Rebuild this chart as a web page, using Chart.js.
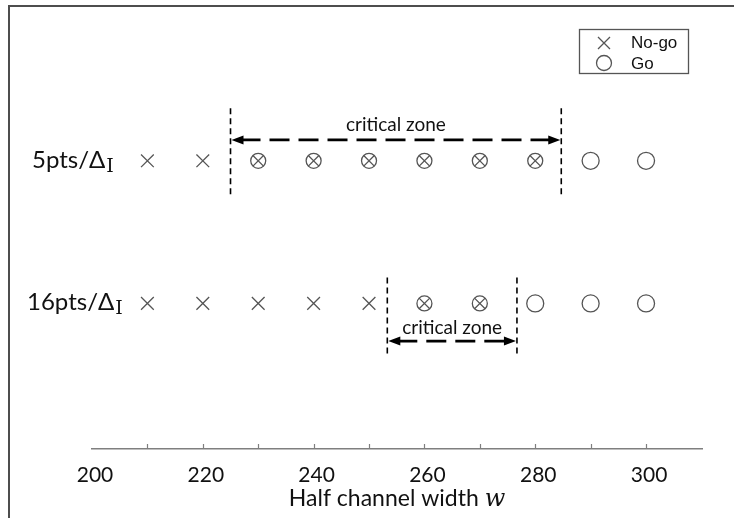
<!DOCTYPE html>
<html>
<head>
<meta charset="UTF-8">
<title>Go / No-go vs half channel width</title>
<script src="https://cdn.jsdelivr.net/npm/chart.js@4.4.1/dist/chart.umd.min.js"></script>
<style>
  html, body { margin: 0; padding: 0; background: #fff; overflow: hidden; width: 734px; height: 518px; }
  #frame { position: absolute; left: 8px; top: 5px; width: 800px; height: 600px;
           border-top: 2px solid #4d4d4d; border-left: 2px solid #4d4d4d; }
  #chart { position: absolute; left: 0; top: 0; }
</style>
</head>
<body>
<div id="frame"></div>
<canvas id="chart" width="734" height="518"></canvas>
<script>
// rows (y level used on the hidden y scale)
const rowNames = ['5pts', '16pts'];
const rowLevels = [2, 1];

// half channel width of every run, split by outcome
const noGo5 = [210, 220];
const critical5 = [230, 240, 250, 260, 270, 280];
const go5 = [290, 300];
const noGo16 = [210, 220, 230, 240, 250];
const critical16 = [260, 270];
const go16 = [280, 290, 300];

// critical zone limits on w
const zone5 = [225, 284.7];
const zone16 = [253.3, 276.7];

const xTickLabels = [200, 220, 240, 260, 280, 300];
const xTickMarks = [210, 220, 230, 240, 250, 260, 270, 280, 290, 300];

const ink = '#555';
const sansFont = 'Lato, "Open Sans", sans-serif';

function pts(xs, level) { return xs.map(x => ({x: x, y: level})); }

function markerSet(data, style, radius) {
  return {
    data: data,
    pointStyle: style,
    pointRadius: radius,
    pointBorderColor: ink,
    pointBackgroundColor: 'rgba(0,0,0,0)',
    pointBorderWidth: 1.3,
    showLine: false
  };
}

// where the dashed limits, arrow and caption sit, relative to the row level
const zoneLayout = [
  {zone: zone5, level: rowLevels[0], top: 0.368, bottom: -0.236, arrow: 0.146, text: 0.25},
  {zone: zone16, level: rowLevels[1], top: 0.181, bottom: -0.368, arrow: -0.264, text: -0.173}
];

function arrowHead(ctx, x, y, dir) {
  ctx.beginPath();
  ctx.moveTo(x, y);
  ctx.lineTo(x - dir * 12, y - 4.5);
  ctx.lineTo(x - dir * 12, y + 4.5);
  ctx.closePath();
  ctx.fill();
}

function drawCross(ctx, cx, cy, h) {
  ctx.beginPath();
  ctx.moveTo(cx - h, cy - h); ctx.lineTo(cx + h, cy + h);
  ctx.moveTo(cx - h, cy + h); ctx.lineTo(cx + h, cy - h);
  ctx.stroke();
}

const overlay = {
  id: 'overlay',
  afterDraw(chart) {
    const ctx = chart.ctx;
    const x = chart.scales.x, y = chart.scales.y;
    const area = chart.chartArea;
    ctx.save();

    // upward tick marks on the w axis
    ctx.strokeStyle = '#7f7f7f';
    ctx.lineWidth = 1.2;
    xTickMarks.forEach(v => {
      const px = Math.round(x.getPixelForValue(v)) + 0.5;
      ctx.beginPath();
      ctx.moveTo(px, area.bottom);
      ctx.lineTo(px, area.bottom - 5);
      ctx.stroke();
    });

    // critical zones
    zoneLayout.forEach(z => {
      const x1 = x.getPixelForValue(z.zone[0]);
      const x2 = x.getPixelForValue(z.zone[1]);
      const yTop = y.getPixelForValue(z.level + z.top);
      const yBot = y.getPixelForValue(z.level + z.bottom);
      const yArr = y.getPixelForValue(z.level + z.arrow);
      ctx.strokeStyle = '#000';
      ctx.fillStyle = '#000';
      ctx.lineWidth = 1.6;
      ctx.setLineDash([6, 4]);
      [x1, x2].forEach(px => {
        ctx.beginPath();
        ctx.moveTo(px, yTop);
        ctx.lineTo(px, yBot);
        ctx.stroke();
      });
      ctx.lineWidth = 2.8;
      ctx.setLineDash([20, 9]);
      ctx.beginPath();
      ctx.moveTo(x1 + 10, yArr);
      ctx.lineTo(x2 - 10, yArr);
      ctx.stroke();
      ctx.setLineDash([]);
      arrowHead(ctx, x1 + 1, yArr, -1);
      arrowHead(ctx, x2 - 1, yArr, 1);
      ctx.font = '19px ' + sansFont;
      ctx.textAlign = 'center';
      ctx.textBaseline = 'middle';
      ctx.fillStyle = '#111';
      ctx.fillText('critical zone', (x1 + x2) / 2, y.getPixelForValue(z.level + z.text));
    });

    // row labels: Npts / Delta_I
    const rowLeft = [32, 27];
    rowNames.forEach((name, i) => {
      const base = y.getPixelForValue(rowLevels[i]) + 7;
      ctx.textAlign = 'left';
      ctx.textBaseline = 'alphabetic';
      ctx.fillStyle = '#111';
      ctx.font = '24px ' + sansFont;
      const txt = name + '/\u0394';
      ctx.fillText(txt, rowLeft[i], base);
      const w = ctx.measureText(txt).width;
      ctx.font = '19px "DejaVu Serif", serif';
      ctx.fillText('I', rowLeft[i] + w + 1, base + 4);
    });

    // legend box
    ctx.strokeStyle = ink;
    ctx.lineWidth = 1.3;
    ctx.strokeRect(579.5, 29.5, 109, 44);
    drawCross(ctx, 604, 43, 6);
    ctx.beginPath();
    ctx.arc(604, 63, 7.5, 0, Math.PI * 2);
    ctx.stroke();
    ctx.fillStyle = '#111';
    ctx.font = '17px "Liberation Sans", Arial, sans-serif';
    ctx.textAlign = 'left';
    ctx.textBaseline = 'middle';
    ctx.fillText('No-go', 631, 43);
    ctx.fillText('Go', 631, 64);

    // axis title with italic w
    ctx.textBaseline = 'alphabetic';
    ctx.font = '23px ' + sansFont;
    const t1 = 'Half channel width ';
    const w1 = ctx.measureText(t1).width;
    ctx.font = 'italic 24px "DejaVu Serif", serif';
    const w2 = ctx.measureText('w').width;
    const left = (area.left + area.right) / 2 - (w1 + w2) / 2;
    ctx.font = '23px ' + sansFont;
    ctx.fillText(t1, left, 506);
    ctx.font = 'italic 24px "DejaVu Serif", serif';
    ctx.fillText('w', left + w1, 506);

    ctx.restore();
  }
};

new Chart(document.getElementById('chart'), {
  type: 'scatter',
  data: {
    datasets: [
      markerSet(pts(noGo5, rowLevels[0]).concat(pts(noGo16, rowLevels[1])), 'crossRot', 9),
      markerSet(pts(go5, rowLevels[0]).concat(pts(go16, rowLevels[1])), 'circle', 8.5),
      markerSet(pts(critical5, rowLevels[0]).concat(pts(critical16, rowLevels[1])), 'circle', 7.5),
      markerSet(pts(critical5, rowLevels[0]).concat(pts(critical16, rowLevels[1])), 'crossRot', 7.5)
    ]
  },
  options: {
    responsive: false,
    animation: false,
    events: [],
    layout: { padding: { left: 92, right: 32, top: 6, bottom: 0 } },
    plugins: { legend: { display: false }, tooltip: { enabled: false } },
    scales: {
      x: {
        type: 'linear',
        min: 200,
        max: 310.1,
        afterFit(scale) { scale.height = 69; },
        afterBuildTicks(scale) { scale.ticks = xTickLabels.map(v => ({value: v})); },
        grid: { display: false },
        border: { display: true, color: '#7f7f7f', width: 1.5 },
        ticks: {
          autoSkip: false,
          maxRotation: 0,
          padding: 6,
          labelOffset: 3,
          color: '#111',
          font: { family: 'Lato', size: 21 }
        }
      },
      y: {
        type: 'linear',
        display: false,
        min: -0.0206,
        max: 3.055
      }
    }
  },
  plugins: [overlay]
});
</script>
</body>
</html>
